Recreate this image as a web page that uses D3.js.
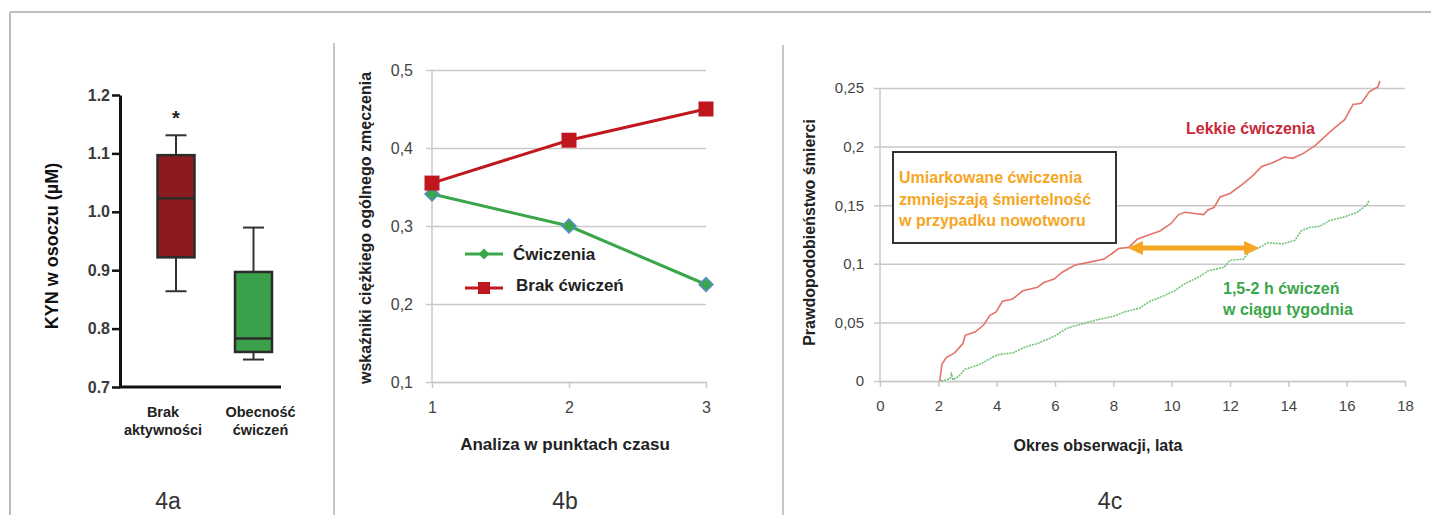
<!DOCTYPE html>
<html lang="pl">
<head>
<meta charset="utf-8">
<title>4a 4b 4c</title>
<script src="https://d3js.org/d3.v7.min.js"></script>
<style>
  body { margin: 0; background: #fff; }
  text { font-family: Arial, "Liberation Sans", sans-serif; }
</style>
</head>
<body>
<script>
// --- 4a: box plot ---
var boxCats = ["Brak aktywności", "Obecność ćwiczeń"];
var boxLabelLines = [["Brak", "aktywności"], ["Obecność", "ćwiczeń"]];
var boxMin = [0.864, 0.747];
var boxQ1 = [0.922, 0.760];
var boxMed = [1.023, 0.783];
var boxQ3 = [1.097, 0.897];
var boxMax = [1.131, 0.973];
var boxColors = ["#8c1a1f", "#3aa14a"];
var kynTicks = [0.7, 0.8, 0.9, 1.0, 1.1, 1.2];

// --- 4b: line chart ---
var timePoints = [1, 2, 3];
var exercise = [0.341, 0.300, 0.225];
var noExercise = [0.355, 0.410, 0.450];
var fatigueTicks = [0.1, 0.2, 0.3, 0.4, 0.5];

// --- 4c: cumulative mortality ---
var lightYears = [2.05, 2.12, 2.27, 2.56, 2.84, 2.92, 3.27, 3.56, 3.77, 3.98, 4.2, 4.55, 4.9, 5.4, 5.62, 5.97,
  6.26, 6.69, 7.11, 7.68, 7.97, 8.18, 8.53, 8.82, 9.25, 9.6, 9.96, 10.24, 10.45, 11.1, 11.24, 11.45,
  11.66, 12.0, 12.38, 12.73, 13.09, 13.44, 13.87, 14.15, 14.5, 14.93, 15.36, 15.64, 15.93, 16.22,
  16.5, 16.78, 17.07, 17.14];
var lightProb = [0, 0.014, 0.020, 0.024, 0.032, 0.039, 0.042, 0.048, 0.056, 0.059, 0.068, 0.070, 0.077, 0.080, 0.084, 0.087,
  0.093, 0.099, 0.101, 0.104, 0.109, 0.113, 0.114, 0.121, 0.125, 0.128, 0.134, 0.142, 0.144, 0.142, 0.146, 0.148,
  0.157, 0.160, 0.167, 0.174, 0.183, 0.186, 0.191, 0.190, 0.194, 0.201, 0.211, 0.217, 0.223, 0.236,
  0.237, 0.247, 0.251, 0.256];
var moderateYears = [2.1, 2.4, 2.45, 2.5, 2.7, 2.84, 2.92, 3.41, 3.84, 4.05, 4.55, 4.98, 5.4, 5.97, 6.4, 6.83, 7.4,
  7.97, 8.39, 8.89, 9.25, 9.67, 10.1, 10.45, 10.95, 11.24, 11.8, 12.0, 12.45, 12.66, 12.94, 13.3, 13.8,
  14.22, 14.44, 14.72, 15.08, 15.43, 15.93, 16.36, 16.57, 16.71, 16.76];
var moderateProb = [0, 0.002, 0.006, 0.001, 0.004, 0.008, 0.010, 0.014, 0.020, 0.0225, 0.024, 0.029, 0.032, 0.038, 0.045, 0.048, 0.052,
  0.055, 0.059, 0.062, 0.068, 0.072, 0.077, 0.083, 0.089, 0.094, 0.097, 0.103, 0.104, 0.110, 0.113, 0.118, 0.117,
  0.120, 0.128, 0.131, 0.132, 0.137, 0.140, 0.144, 0.148, 0.151, 0.154];
var yearTicks = [0, 2, 4, 6, 8, 10, 12, 14, 16, 18];
var probTicks = [0, 0.05, 0.1, 0.15, 0.2, 0.25];
var arrowSpan = [8.5, 13.0];
var arrowLevel = 0.1135;

var W = 1431, H = 515;
var svg = d3.select("body").append("svg").attr("width", W).attr("height", H);
var comma = function (v) { return String(v).replace(".", ","); };

// frame and dividers
svg.append("line").attr("x1", 10).attr("x2", W).attr("y1", 12).attr("y2", 12)
  .attr("stroke", "#bdbdbd").attr("stroke-width", 2);
svg.append("line").attr("x1", 10).attr("x2", 10).attr("y1", 12).attr("y2", H)
  .attr("stroke", "#bdbdbd").attr("stroke-width", 2);
svg.append("line").attr("x1", 334).attr("x2", 334).attr("y1", 43).attr("y2", H)
  .attr("stroke", "#a0a0a0").attr("stroke-width", 1.2);
svg.append("line").attr("x1", 783).attr("x2", 783).attr("y1", 45).attr("y2", H)
  .attr("stroke", "#a0a0a0").attr("stroke-width", 1.2);

// panel captions
[["4a", 168], ["4b", 565], ["4c", 1110]].forEach(function (c) {
  svg.append("text").attr("x", c[1]).attr("y", 509).attr("text-anchor", "middle")
    .style("font-size", "23px").attr("fill", "#333").text(c[0]);
});

// ================= 4a =================
var ga = svg.append("g");
var yA = d3.scaleLinear().domain([0.7, 1.2]).range([387, 95]);
var xA = d3.scalePoint().domain(boxCats).range([176, 253.5]);
var boxW = 37;

var axA = ga.append("g").attr("transform", "translate(120,0)")
  .call(d3.axisLeft(yA).tickValues(kynTicks).tickSize(8).tickSizeOuter(0).tickPadding(2).tickFormat(d3.format(".1f")));
axA.select(".domain").attr("stroke", "#111").attr("stroke-width", 3);
axA.selectAll(".tick line").attr("stroke", "#111").attr("stroke-width", 2.5);
axA.selectAll(".tick text").attr("fill", "#3a3a3a").style("font-size", "16px").style("font-weight", "bold");
ga.append("line").attr("x1", 119).attr("x2", 281).attr("y1", yA(0.7)).attr("y2", yA(0.7))
  .attr("stroke", "#111").attr("stroke-width", 3);

ga.append("text").attr("transform", "translate(58," + ((yA(0.7) + yA(1.2)) / 2 + 5) + ") rotate(-90)")
  .attr("text-anchor", "middle").style("font-size", "18px").style("font-weight", "bold").attr("fill", "#111")
  .text("KYN w osoczu (µM)");

var boxes = ga.selectAll(".box").data(boxCats).enter().append("g").attr("class", "box");
boxes.append("line").attr("x1", function (d) { return xA(d); }).attr("x2", function (d) { return xA(d); })
  .attr("y1", function (d, i) { return yA(boxMax[i]); }).attr("y2", function (d, i) { return yA(boxMin[i]); })
  .attr("stroke", "#333").attr("stroke-width", 2);
boxes.each(function (d, i) {
  var g = d3.select(this);
  [boxMax[i], boxMin[i]].forEach(function (v) {
    g.append("line").attr("x1", xA(d) - 10.5).attr("x2", xA(d) + 10.5).attr("y1", yA(v)).attr("y2", yA(v))
      .attr("stroke", "#333").attr("stroke-width", 2);
  });
});
boxes.append("rect").attr("x", function (d) { return xA(d) - boxW / 2; }).attr("width", boxW)
  .attr("y", function (d, i) { return yA(boxQ3[i]); })
  .attr("height", function (d, i) { return yA(boxQ1[i]) - yA(boxQ3[i]); })
  .attr("fill", function (d, i) { return boxColors[i]; }).attr("stroke", "#2b2b2b").attr("stroke-width", 2.5);
boxes.append("line").attr("x1", function (d) { return xA(d) - boxW / 2; }).attr("x2", function (d) { return xA(d) + boxW / 2; })
  .attr("y1", function (d, i) { return yA(boxMed[i]); }).attr("y2", function (d, i) { return yA(boxMed[i]); })
  .attr("stroke", "#2b2b2b").attr("stroke-width", 2.5);

ga.append("text").attr("x", xA(boxCats[0])).attr("y", yA(boxMax[0]) - 10).attr("text-anchor", "middle")
  .style("font-size", "20px").style("font-weight", "bold").attr("fill", "#222").text("*");

var labelShift = [-13, 7];
boxCats.forEach(function (c, i) {
  var t = ga.append("text").attr("text-anchor", "middle").style("font-size", "14.5px").style("font-weight", "bold").attr("fill", "#222");
  boxLabelLines[i].forEach(function (s, j) {
    t.append("tspan").attr("x", xA(c) + labelShift[i]).attr("y", 417 + j * 18).text(s);
  });
});

// ================= 4b =================
var gb = svg.append("g");
var xB = d3.scaleLinear().domain([1, 3]).range([432, 706]);
var yB = d3.scaleLinear().domain([0.1, 0.5]).range([382, 70]);

var gridB = gb.append("g").attr("transform", "translate(426,0)")
  .call(d3.axisLeft(yB).tickValues(fatigueTicks).tickSize(-(xB.range()[1] - 426)).tickPadding(13).tickFormat(d3.format(".1f")));
gridB.select(".domain").remove();
gridB.selectAll(".tick line").attr("stroke", "#c9c9c9").attr("stroke-width", 1.5);
gridB.selectAll(".tick text").text(function (d) { return comma(d3.format(".1f")(d)); })
  .attr("fill", "#444").style("font-size", "16px");
gb.append("line").attr("x1", xB(1)).attr("x2", xB(1)).attr("y1", yB(0.5)).attr("y2", yB(0.1))
  .attr("stroke", "#c9c9c9").attr("stroke-width", 1.5);
var axB = gb.append("g").attr("transform", "translate(0," + yB(0.1) + ")")
  .call(d3.axisBottom(xB).tickValues(timePoints).tickSize(6).tickSizeOuter(0).tickPadding(14).tickFormat(d3.format("d")));
axB.select(".domain").attr("stroke", "#c9c9c9").attr("stroke-width", 1.5);
axB.selectAll(".tick line").attr("stroke", "#c9c9c9").attr("stroke-width", 1.5);
axB.selectAll(".tick text").attr("fill", "#444").style("font-size", "16px");

gb.append("text").attr("transform", "translate(371," + ((yB(0.1) + yB(0.5)) / 2 + 2) + ") rotate(-90)")
  .attr("text-anchor", "middle").style("font-size", "16px").style("font-weight", "bold").attr("fill", "#222")
  .text("wskaźniki ciężkiego ogólnego zmęczenia");
gb.append("text").attr("x", (xB(1) + xB(3)) / 2 - 4).attr("y", 450).attr("text-anchor", "middle")
  .style("font-size", "17px").style("font-weight", "bold").attr("fill", "#222").text("Analiza w punktach czasu");

var lineB = d3.line().x(function (d) { return xB(d[0]); }).y(function (d) { return yB(d[1]); });
var greenB = "#3aa64a", redB = "#c0171f";
var diamond = function (cx, cy, r) {
  return "M" + cx + "," + (cy - r) + "L" + (cx + r) + "," + cy + "L" + cx + "," + (cy + r) + "L" + (cx - r) + "," + cy + "Z";
};
gb.append("path").datum(d3.zip(timePoints, exercise)).attr("d", lineB).attr("fill", "none")
  .attr("stroke", greenB).attr("stroke-width", 3);
gb.append("path").datum(d3.zip(timePoints, noExercise)).attr("d", lineB).attr("fill", "none")
  .attr("stroke", redB).attr("stroke-width", 3);
gb.selectAll(".dia").data(d3.zip(timePoints, exercise)).enter().append("path").attr("class", "dia")
  .attr("d", function (d) { return diamond(xB(d[0]), yB(d[1]), 7); })
  .attr("fill", greenB).attr("stroke", "#5b8bd0").attr("stroke-width", 1.5);
gb.selectAll(".sq").data(d3.zip(timePoints, noExercise)).enter().append("rect").attr("class", "sq")
  .attr("x", function (d) { return xB(d[0]) - 7.5; }).attr("y", function (d) { return yB(d[1]) - 7.5; })
  .attr("width", 15).attr("height", 15).attr("fill", redB);

// legend
var legB = gb.append("g");
legB.append("line").attr("x1", 465).attr("x2", 503).attr("y1", 254).attr("y2", 254).attr("stroke", greenB).attr("stroke-width", 3);
legB.append("path").attr("d", diamond(484, 254, 5.5)).attr("fill", greenB);
legB.append("text").attr("x", 513).attr("y", 260).style("font-size", "17px").style("font-weight", "bold").attr("fill", "#222").text("Ćwiczenia");
legB.append("line").attr("x1", 465).attr("x2", 503).attr("y1", 288).attr("y2", 288).attr("stroke", redB).attr("stroke-width", 3);
legB.append("rect").attr("x", 478).attr("y", 282).attr("width", 12).attr("height", 12).attr("fill", redB);
legB.append("text").attr("x", 516).attr("y", 291).style("font-size", "17px").style("font-weight", "bold").attr("fill", "#222").text("Brak ćwiczeń");

// ================= 4c =================
var gc = svg.append("g");
var xC = d3.scaleLinear().domain([0, 18]).range([880, 1405]);
var yC = d3.scaleLinear().domain([0, 0.25]).range([381, 88]);

var gridC = gc.append("g").attr("transform", "translate(874,0)")
  .call(d3.axisLeft(yC).tickValues(probTicks).tickSize(-(xC.range()[1] - 874)).tickPadding(10).tickFormat(comma));
gridC.select(".domain").remove();
gridC.selectAll(".tick line").attr("stroke", "#c9c9c9").attr("stroke-width", 1.5);
gridC.selectAll(".tick text").attr("fill", "#444").style("font-size", "15px");
gc.append("line").attr("x1", xC(0)).attr("x2", xC(0)).attr("y1", yC(0.25)).attr("y2", yC(0))
  .attr("stroke", "#c9c9c9").attr("stroke-width", 1.5);
var axC = gc.append("g").attr("transform", "translate(0," + yC(0) + ")")
  .call(d3.axisBottom(xC).tickValues(yearTicks).tickSize(6).tickSizeOuter(0).tickPadding(13).tickFormat(d3.format("d")));
axC.select(".domain").attr("stroke", "#c9c9c9").attr("stroke-width", 1.5);
axC.selectAll(".tick line").attr("stroke", "#c9c9c9").attr("stroke-width", 1.5);
axC.selectAll(".tick text").attr("fill", "#444").style("font-size", "15px");

gc.append("text").attr("transform", "translate(815," + ((yC(0) + yC(0.25)) / 2 - 2) + ") rotate(-90)")
  .attr("text-anchor", "middle").style("font-size", "16px").style("font-weight", "bold").attr("fill", "#222")
  .text("Prawdopodobieństwo śmierci");
gc.append("text").attr("x", 1098).attr("y", 451).attr("text-anchor", "middle")
  .style("font-size", "16px").style("font-weight", "bold").attr("fill", "#222").text("Okres obserwacji, lata");

var lineC = d3.line().x(function (d) { return xC(d[0]); }).y(function (d) { return yC(d[1]); });
gc.append("path").datum(d3.zip(moderateYears, moderateProb)).attr("d", lineC).attr("fill", "none")
  .attr("stroke", "#74c27a").attr("stroke-width", 1.6).attr("stroke-dasharray", "2,1");
gc.append("path").datum(d3.zip(lightYears, lightProb)).attr("d", lineC).attr("fill", "none")
  .attr("stroke", "#e4736a").attr("stroke-width", 1.6);

// annotation box
gc.append("rect").attr("x", 893).attr("y", 152).attr("width", 223).attr("height", 91)
  .attr("fill", "#fff").attr("stroke", "#333").attr("stroke-width", 2);
var orange = "#f6a623";
var boxText = gc.append("text").style("font-size", "16px").style("font-weight", "bold").attr("fill", orange);
["Umiarkowane ćwiczenia", "zmniejszają śmiertelność", "w przypadku nowotworu"].forEach(function (s, j) {
  boxText.append("tspan").attr("x", 899).attr("y", 183 + j * 21.5).text(s);
});

// double arrow
var ax1 = xC(arrowSpan[0]), ax2 = xC(arrowSpan[1]), ay = yC(arrowLevel);
gc.append("line").attr("x1", ax1 + 10).attr("x2", ax2 - 10).attr("y1", ay).attr("y2", ay)
  .attr("stroke", orange).attr("stroke-width", 5);
gc.append("path").attr("d", "M" + ax1 + "," + ay + "L" + (ax1 + 15) + "," + (ay - 7) + "L" + (ax1 + 15) + "," + (ay + 7) + "Z").attr("fill", orange);
gc.append("path").attr("d", "M" + ax2 + "," + ay + "L" + (ax2 - 15) + "," + (ay - 7) + "L" + (ax2 - 15) + "," + (ay + 7) + "Z").attr("fill", orange);

gc.append("text").attr("x", 1186).attr("y", 134).style("font-size", "16px").style("font-weight", "bold")
  .attr("fill", "#c8283a").text("Lekkie ćwiczenia");
var gText = gc.append("text").style("font-size", "16px").style("font-weight", "bold").attr("fill", "#3aa64a");
["1,5-2 h ćwiczeń", "w ciągu tygodnia"].forEach(function (s, j) {
  gText.append("tspan").attr("x", 1223).attr("y", 294 + j * 21).text(s);
});
</script>
</body>
</html>
